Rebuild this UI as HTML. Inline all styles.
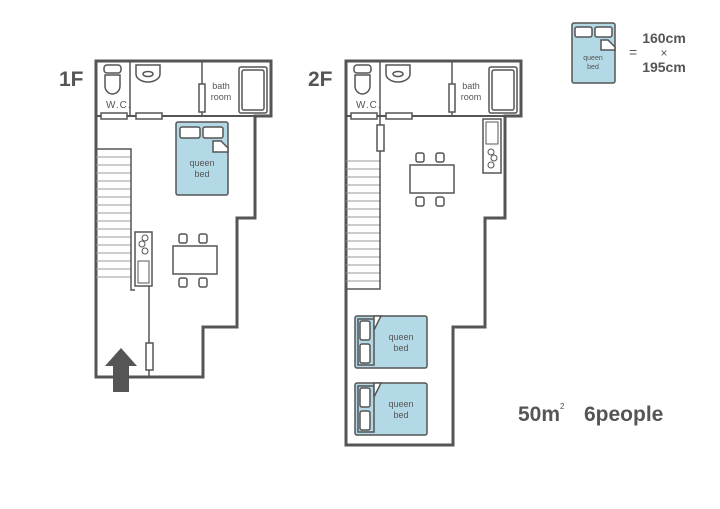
<!DOCTYPE html>
<html><head><meta charset="utf-8"><style>
html,body{margin:0;padding:0;background:#fff;}
svg{display:block;}
text{font-family:"Liberation Sans","DejaVu Sans",sans-serif;}
</style></head><body>
<svg width="720" height="509" viewBox="0 0 720 509" xmlns="http://www.w3.org/2000/svg">
<defs>
<g id="top" fill="none" stroke="#555" stroke-width="1.5">
  <line x1="130" y1="61" x2="130" y2="116"/>
  <line x1="202" y1="61" x2="202" y2="84"/>
  <line x1="202" y1="112" x2="202" y2="116"/>
  <rect x="199" y="84" width="6" height="28" fill="#fff"/>
  <rect x="239" y="67" width="28" height="46" rx="2"/>
  <rect x="242" y="70" width="22" height="40" rx="2"/>
  <rect x="104" y="65" width="17" height="8" rx="3"/>
  <path d="M105 75 h15 v11 a7.5 8 0 0 1 -15 0 z"/>
  <path d="M136 65 h24 v9 a12 8 0 0 1 -24 0 z"/>
  <ellipse cx="148" cy="74" rx="5" ry="2.5"/>
  <rect x="101" y="113" width="26" height="6" fill="#fff"/>
  <rect x="136" y="113" width="26" height="6" fill="#fff"/>
</g>
<g id="stairs" stroke="#999" stroke-width="1">
  <line x1="0" y1="0" x2="35" y2="0"/><line x1="0" y1="8" x2="35" y2="8"/>
  <line x1="0" y1="16" x2="35" y2="16"/><line x1="0" y1="24" x2="35" y2="24"/>
  <line x1="0" y1="32" x2="35" y2="32"/><line x1="0" y1="40" x2="35" y2="40"/>
  <line x1="0" y1="48" x2="35" y2="48"/><line x1="0" y1="56" x2="35" y2="56"/>
  <line x1="0" y1="64" x2="35" y2="64"/><line x1="0" y1="72" x2="35" y2="72"/>
  <line x1="0" y1="80" x2="35" y2="80"/><line x1="0" y1="88" x2="35" y2="88"/>
  <line x1="0" y1="96" x2="35" y2="96"/><line x1="0" y1="104" x2="35" y2="104"/>
  <line x1="0" y1="112" x2="35" y2="112"/><line x1="0" y1="120" x2="35" y2="120"/>
</g>
<g id="table" fill="#fff" stroke="#555" stroke-width="1.5">
  <rect x="0" y="12" width="44" height="28"/>
  <rect x="6" y="0" width="8" height="9" rx="2"/>
  <rect x="26" y="0" width="8" height="9" rx="2"/>
  <rect x="6" y="44" width="8" height="9" rx="2"/>
  <rect x="26" y="44" width="8" height="9" rx="2"/>
</g>
<g id="sbed" stroke="#555" stroke-width="1.5">
  <rect x="0" y="0" width="72" height="52" rx="2" fill="#b3d9e6"/>
  <rect x="3" y="3" width="16" height="46" fill="#b3d9e6"/>
  <rect x="5" y="5" width="10" height="19" rx="2" fill="#fff"/>
  <rect x="5" y="28" width="10" height="19" rx="2" fill="#fff"/>
  <path d="M19 0 L26 0 L19 14 Z" fill="#fff"/>
  <text x="46" y="24" font-size="9" fill="#555" stroke="none" text-anchor="middle">queen</text>
  <text x="46" y="35" font-size="9" fill="#555" stroke="none" text-anchor="middle">bed</text>
</g>
</defs>

<text x="59" y="86" font-size="21" font-weight="bold" fill="#555">1F</text>
<path d="M96 61 H271 V116 H255 V218 H237 V327 H203 V377 H96 Z" fill="none" stroke="#555" stroke-width="3"/>
<line x1="96" y1="116" x2="271" y2="116" stroke="#555" stroke-width="2"/>
<use href="#top"/>
<text x="106" y="108" font-size="10" fill="#555" letter-spacing="1">W.C.</text>
<text x="221" y="89" font-size="9" fill="#555" text-anchor="middle">bath</text>
<text x="221" y="100" font-size="9" fill="#555" text-anchor="middle">room</text>
<use href="#stairs" x="96" y="157"/>
<path d="M97 149 H131 V290 H135" fill="none" stroke="#555" stroke-width="1.5"/>
<rect x="135" y="232" width="17" height="54" fill="#fff" stroke="#555" stroke-width="1.5"/>
<circle cx="145" cy="238" r="3" fill="none" stroke="#555"/><circle cx="142" cy="244" r="3" fill="none" stroke="#555"/><circle cx="145" cy="251" r="3" fill="none" stroke="#555"/>
<rect x="138" y="261" width="11" height="22" fill="none" stroke="#555"/>
<line x1="149" y1="286" x2="149" y2="377" stroke="#555" stroke-width="1.5"/>
<rect x="146" y="343" width="7" height="27" fill="#fff" stroke="#555" stroke-width="1.5"/>
<g stroke="#555" stroke-width="1.5">
<rect x="176" y="122" width="52" height="73" rx="2" fill="#b3d9e6"/>
<rect x="180" y="127" width="20" height="11" rx="2" fill="#fff"/>
<rect x="203" y="127" width="20" height="11" rx="2" fill="#fff"/>
<path d="M213 141 H221 L228 148 V152 H213 Z" fill="#fff"/>
</g>
<text x="202" y="166" font-size="9" fill="#555" text-anchor="middle">queen</text>
<text x="202" y="177" font-size="9" fill="#555" text-anchor="middle">bed</text>
<use href="#table" x="173" y="234"/>
<path d="M121 348 L137 366 H129 V392 H113 V366 H105 Z" fill="#555"/>

<text x="308" y="86" font-size="21" font-weight="bold" fill="#555">2F</text>
<path d="M346 61 H521 V116 H505 V218 H485 V327 H453 V445 H346 Z" fill="none" stroke="#555" stroke-width="3"/>
<line x1="346" y1="116" x2="521" y2="116" stroke="#555" stroke-width="2"/>
<use href="#top" x="250"/>
<text x="356" y="108" font-size="10" fill="#555" letter-spacing="1">W.C.</text>
<text x="471" y="89" font-size="9" fill="#555" text-anchor="middle">bath</text>
<text x="471" y="100" font-size="9" fill="#555" text-anchor="middle">room</text>
<use href="#stairs" x="346" y="161"/>
<path d="M380 116 V289 H347" fill="none" stroke="#555" stroke-width="1.5"/>
<rect x="377" y="125" width="7" height="26" fill="#fff" stroke="#555" stroke-width="1.5"/>
<rect x="483" y="119" width="18" height="54" fill="#fff" stroke="#555" stroke-width="1.5"/>
<rect x="486" y="122" width="12" height="22" fill="none" stroke="#555"/>
<circle cx="491" cy="152" r="3" fill="none" stroke="#555"/><circle cx="494" cy="158" r="3" fill="none" stroke="#555"/><circle cx="491" cy="165" r="3" fill="none" stroke="#555"/>
<use href="#table" x="410" y="153"/>
<use href="#sbed" x="355" y="316"/>
<use href="#sbed" x="355" y="383"/>

<g stroke="#555" stroke-width="1.5">
<rect x="572" y="23" width="43" height="60" rx="2" fill="#b3d9e6"/>
<rect x="575" y="27" width="17" height="10" rx="2" fill="#fff"/>
<rect x="595" y="27" width="17" height="10" rx="2" fill="#fff"/>
<path d="M601 40 H608 L615 47 V50 H601 Z" fill="#fff"/>
</g>
<text x="593" y="60" font-size="7" fill="#555" text-anchor="middle">queen</text>
<text x="593" y="69" font-size="7" fill="#555" text-anchor="middle">bed</text>
<text x="629" y="57" font-size="14" fill="#555">=</text>
<text x="664" y="43" font-size="14" font-weight="bold" fill="#555" text-anchor="middle">160cm</text>
<text x="664" y="57" font-size="12" fill="#555" text-anchor="middle">×</text>
<text x="664" y="72" font-size="14" font-weight="bold" fill="#555" text-anchor="middle">195cm</text>

<text x="518" y="421" font-size="21" font-weight="bold" fill="#555">50m</text>
<text x="560" y="409" font-size="8" fill="#555">2</text>
<text x="584" y="421" font-size="21" font-weight="bold" fill="#555">6people</text>
</svg>
</body></html>
